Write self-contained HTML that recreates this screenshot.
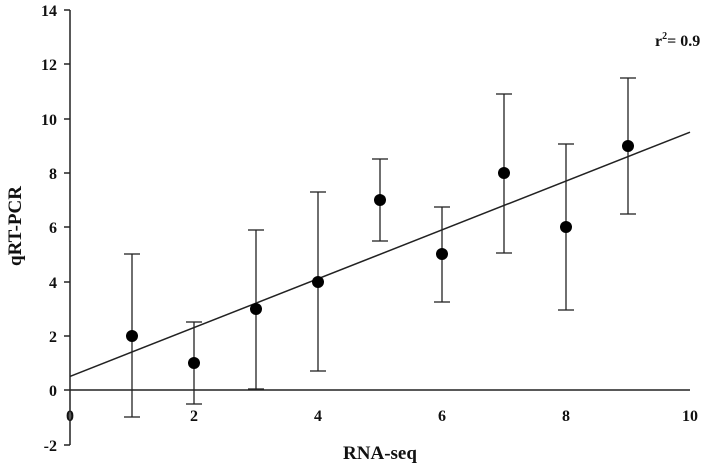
<!DOCTYPE html>
<html><head><meta charset="utf-8"><style>
html,body{margin:0;padding:0;background:#fff}
svg text{font-family:"Liberation Serif",serif;font-weight:bold;fill:#111}
</style></head><body>
<svg width="709" height="468" xmlns="http://www.w3.org/2000/svg">
<g stroke="#222" stroke-width="1.5" fill="none">
<line x1="70" y1="10" x2="70" y2="445"/>
<line x1="70" y1="390" x2="690" y2="390"/>
<line x1="64" y1="10" x2="70" y2="10"/>
<line x1="64" y1="64" x2="70" y2="64"/>
<line x1="64" y1="119" x2="70" y2="119"/>
<line x1="64" y1="173" x2="70" y2="173"/>
<line x1="64" y1="227" x2="70" y2="227"/>
<line x1="64" y1="282" x2="70" y2="282"/>
<line x1="64" y1="336" x2="70" y2="336"/>
<line x1="64" y1="390" x2="70" y2="390"/>
<line x1="64" y1="445" x2="70" y2="445"/>
<line x1="70" y1="376.4" x2="690" y2="132.2"/>
</g>
<g font-size="16" text-anchor="end">
<text x="57" y="16">14</text><text x="57" y="70">12</text><text x="57" y="125">10</text>
<text x="57" y="179">8</text><text x="57" y="233">6</text><text x="57" y="288">4</text>
<text x="57" y="342">2</text><text x="57" y="396">0</text><text x="57" y="451">-2</text>
</g>
<g font-size="16" text-anchor="middle">
<text x="70" y="421">0</text><text x="194" y="421">2</text><text x="318" y="421">4</text>
<text x="442" y="421">6</text><text x="566" y="421">8</text><text x="690" y="421">10</text>
</g>
<text x="380" y="459" font-size="19" text-anchor="middle">RNA-seq</text>
<text transform="translate(21,226) rotate(-90)" font-size="19" text-anchor="middle">qRT-PCR</text>
<text x="655" y="46" font-size="16">r<tspan dy="-7" font-size="10">2</tspan><tspan dy="7">= 0.9</tspan></text>
<g stroke="#222" stroke-width="1.3">
<line x1="132" y1="254" x2="132" y2="417"/><line x1="124" y1="254" x2="140" y2="254"/><line x1="124" y1="417" x2="140" y2="417"/>
<line x1="194" y1="322" x2="194" y2="404"/><line x1="186" y1="322" x2="202" y2="322"/><line x1="186" y1="404" x2="202" y2="404"/>
<line x1="256" y1="230" x2="256" y2="389"/><line x1="248" y1="230" x2="264" y2="230"/><line x1="248" y1="389" x2="264" y2="389"/>
<line x1="318" y1="192" x2="318" y2="371"/><line x1="310" y1="192" x2="326" y2="192"/><line x1="310" y1="371" x2="326" y2="371"/>
<line x1="380" y1="159" x2="380" y2="241"/><line x1="372" y1="159" x2="388" y2="159"/><line x1="372" y1="241" x2="388" y2="241"/>
<line x1="442" y1="207" x2="442" y2="302"/><line x1="434" y1="207" x2="450" y2="207"/><line x1="434" y1="302" x2="450" y2="302"/>
<line x1="504" y1="94" x2="504" y2="253"/><line x1="496" y1="94" x2="512" y2="94"/><line x1="496" y1="253" x2="512" y2="253"/>
<line x1="566" y1="144" x2="566" y2="310"/><line x1="558" y1="144" x2="574" y2="144"/><line x1="558" y1="310" x2="574" y2="310"/>
<line x1="628" y1="78" x2="628" y2="214"/><line x1="620" y1="78" x2="636" y2="78"/><line x1="620" y1="214" x2="636" y2="214"/>
</g>
<g fill="#000">
<circle cx="132" cy="336" r="6"/><circle cx="194" cy="363" r="6"/><circle cx="256" cy="309" r="6"/>
<circle cx="318" cy="282" r="6"/><circle cx="380" cy="200" r="6"/><circle cx="442" cy="254" r="6"/>
<circle cx="504" cy="173" r="6"/><circle cx="566" cy="227" r="6"/><circle cx="628" cy="146" r="6"/>
</g>
</svg>
</body></html>
